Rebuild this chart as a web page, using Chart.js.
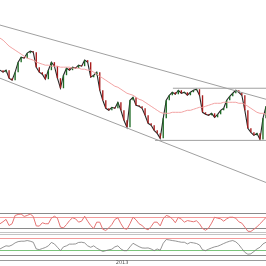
<!DOCTYPE html>
<html>
<head>
<meta charset="utf-8">
<script src="https://cdn.jsdelivr.net/npm/chart.js@4.4.0/dist/chart.umd.min.js"></script>
<style>
  html, body { margin: 0; padding: 0; background: #fff; }
  #wrap { width: 266px; height: 266px; }
</style>
</head>
<body>
<div id="wrap"><canvas id="priceChart"></canvas></div>
<script>
// one entry per trading session
const sessions = [...Array(89).keys()];

const closes = [
  1.330, 1.328, 1.330, 1.322, 1.320, 1.328, 1.338, 1.343, 1.342, 1.347,
  1.349, 1.348, 1.333, 1.328, 1.326, 1.321, 1.330, 1.338, 1.334, 1.322,
  1.312, 1.325, 1.332, 1.330, 1.333, 1.332, 1.335, 1.334, 1.340, 1.338,
  1.323, 1.325, 1.328, 1.310, 1.300, 1.292, 1.290, 1.293, 1.292, 1.298,
  1.290, 1.280, 1.273, 1.300, 1.303, 1.295, 1.294, 1.292, 1.285, 1.277,
  1.275, 1.270, 1.267, 1.262, 1.282, 1.300, 1.305, 1.308, 1.306, 1.310,
  1.307, 1.308, 1.305, 1.308, 1.310, 1.311, 1.305, 1.288, 1.286, 1.285,
  1.287, 1.283, 1.286, 1.290, 1.292, 1.300, 1.304, 1.307, 1.310, 1.308,
  1.305, 1.290, 1.272, 1.268, 1.265, 1.267, 1.261, 1.282, 1.294
];

const movingAvg = [
  1.362, 1.360, 1.357, 1.354, 1.352, 1.350, 1.348, 1.346, 1.344, 1.342,
  1.341, 1.340, 1.338, 1.337, 1.336, 1.335, 1.335, 1.334, 1.334, 1.334,
  1.333, 1.333, 1.333, 1.333, 1.332, 1.332, 1.332, 1.331, 1.331, 1.330,
  1.330, 1.328, 1.326, 1.324, 1.322, 1.320, 1.318, 1.316, 1.314, 1.313,
  1.311, 1.309, 1.307, 1.306, 1.305, 1.303, 1.301, 1.300, 1.298, 1.296,
  1.294, 1.292, 1.290, 1.288, 1.287, 1.287, 1.287, 1.288, 1.288, 1.288,
  1.288, 1.289, 1.290, 1.290, 1.291, 1.292, 1.293, 1.293, 1.294, 1.295,
  1.296, 1.297, 1.297, 1.297, 1.298, 1.298, 1.298, 1.298, 1.298, 1.297,
  1.297, 1.296, 1.294, 1.292, 1.290, 1.288, 1.287, 1.287, 1.286
];

const stoch = [
  46, 56, 68, 37, 46, 88, 93, 95, 83, 88,
  95, 83, 35, 34, 51, 46, 46, 74, 84, 74,
  29, 25, 42, 62, 76, 71, 54, 59, 84, 59,
  37, 22, 54, 54, 18, 12, 25, 42, 68, 76,
  46, 22, 18, 46, 79, 66, 46, 37, 22, 15,
  32, 54, 54, 35, 71, 88, 83, 71, 51, 78,
  69, 54, 62, 59, 56, 61, 46, 22, 13, 24,
  49, 79, 74, 71, 59, 71, 79, 79, 74, 56,
  49, 29, 8, 7, 18, 30, 46, 61, 78
];

const oscillator = [
  29, 37, 44, 42, 48, 58, 64, 66, 66, 69,
  66, 61, 29, 26, 31, 36, 44, 60, 53, 37,
  21, 39, 44, 52, 52, 53, 60, 61, 58, 44,
  37, 44, 33, 25, 17, 21, 25, 28, 39, 44,
  29, 21, 21, 39, 56, 48, 40, 34, 33, 34,
  29, 21, 29, 23, 56, 74, 72, 69, 67, 64,
  61, 61, 53, 60, 58, 55, 48, 25, 21, 28,
  34, 39, 42, 48, 55, 61, 66, 69, 63, 50,
  31, 13, 4, 6, 17, 29, 37, 53, 61
];

// trend lines: [session, price] end points
const channelTop = [[0, 1.375], [88, 1.301]];
const channelBottom = [[0, 1.322], [88, 1.218]];
const resistance = [[57.2, 1.312], [88, 1.312]];
const support = [[51.3, 1.260], [88, 1.260]];

const oscLevels = [0, 20, 80, 100];
const tickPositions = [40.4];
const tickLabels = ['2013'];

const bodies = closes.map((c, i) => [i ? closes[i - 1] : c, c]);
const bodyColors = bodies.map(b => b[1] >= b[0] ? '#1f6b26' : '#a81c1c');

const toPoints = seg => seg.map(p => ({ x: p[0], y: p[1] }));
const trend = (seg, color) => ({
  type: 'line', data: toPoints(seg), yAxisID: 'y', borderColor: color,
  borderWidth: 1, pointRadius: 0, fill: false
});

function panel(stackWeight, weight, extra) {
  return Object.assign({
    type: 'linear', position: 'right', stack: 'panels', stackWeight, weight,
    ticks: { display: false },
    grid: { display: false, drawTicks: false },
    border: { display: false }
  }, extra);
}

const stochGrid = ['#c4c4c4', '#8a8a8a', '#f29a9a', '#8a8a8a'];
const oscGrid = ['#8a8a8a', '#7cc47c', '#f29a9a', '#c4c4c4'];

const ctx = document.getElementById('priceChart').getContext('2d');
const priceChart = new Chart(ctx, {
  data: {
    labels: sessions,
    datasets: [
      trend(channelTop, '#a0a0a0'),
      trend(channelBottom, '#a0a0a0'),
      trend(resistance, '#a0a0a0'),
      trend(support, '#a0a0a0'),
      {
        type: 'line', data: movingAvg, yAxisID: 'y',
        borderColor: '#f2a3a3', borderWidth: 1, pointRadius: 0
      },
      {
        type: 'bar', data: bodies, yAxisID: 'y',
        backgroundColor: bodyColors, borderWidth: 0,
        barPercentage: 0.45, categoryPercentage: 1
      },
      {
        type: 'line', data: closes, yAxisID: 'y',
        borderColor: 'rgba(15,15,15,0.9)', borderWidth: 1.1, pointRadius: 0
      },
      {
        type: 'line', data: stoch, yAxisID: 'yS',
        borderColor: '#e57373', borderWidth: 1, pointRadius: 0
      },
      {
        type: 'line', data: oscillator, yAxisID: 'yO',
        borderColor: '#7a7a7a', borderWidth: 0.8, pointRadius: 0
      }
    ]
  },
  options: {
    responsive: true,
    maintainAspectRatio: false,
    animation: false,
    layout: { padding: 0 },
    plugins: { legend: { display: false }, tooltip: { enabled: false } },
    scales: {
      x: {
        type: 'linear', min: 0, max: 88, offset: false,
        grid: { display: false, drawTicks: false },
        border: { color: '#9a9a9a' },
        afterBuildTicks: s => { s.ticks = tickPositions.map(v => ({ value: v })); },
        ticks: {
          autoSkip: false, maxRotation: 0, padding: 0,
          color: '#555', font: { family: 'DejaVu Sans', size: 5 },
          callback: (v, i) => tickLabels[i]
        }
      },
      y: panel(212.5, 1, { min: 1.1875, max: 1.4 }),
      yS: panel(19.7, 2, {
        min: 0, max: 100,
        afterBuildTicks: s => { s.ticks = oscLevels.map(v => ({ value: v })); },
        grid: { display: true, drawTicks: false, color: c => stochGrid[c.index] }
      }),
      yGap: panel(1.2, 3, {}),
      yO: panel(21, 4, {
        min: 0, max: 100,
        afterBuildTicks: s => { s.ticks = oscLevels.map(v => ({ value: v })); },
        grid: { display: true, drawTicks: false, color: c => oscGrid[c.index] }
      }),
      yFoot: panel(4.9, 5, {})
    }
  }
});
</script>
</body>
</html>
